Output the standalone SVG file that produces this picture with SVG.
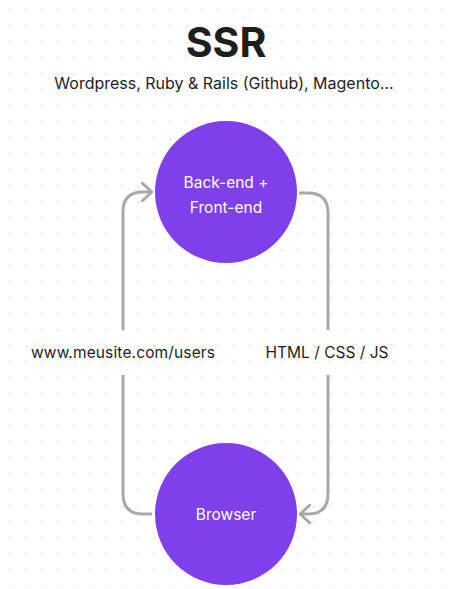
<svg xmlns="http://www.w3.org/2000/svg" width="453" height="589" viewBox="0 0 453 589">
<defs>
<pattern id="dots" x="0" y="0" width="16" height="16" patternUnits="userSpaceOnUse">
<rect x="10" y="10" width="1.4" height="1.4" fill="#d6d6d6"/>
</pattern>
<marker id="arr" viewBox="0 0 12 20" refX="11" refY="10" markerWidth="12" markerHeight="20" markerUnits="userSpaceOnUse" orient="auto">
<path d="M1,1 L11,10 L1,19" fill="none" stroke="#a9a9a9" stroke-width="3" stroke-linecap="round" stroke-linejoin="round"/>
</marker>
<style>
.node{fill:#7f3fea}
.ntxt{font-family:Inter,"Noto Sans",sans-serif;font-size:15.5px;fill:#ffffff;text-anchor:middle}
.conn{fill:none;stroke:#a9a9a9;stroke-width:3}
.lbl{font-family:Inter,"Noto Sans",sans-serif;font-size:15.5px;fill:#1e1e1e;text-anchor:middle}
</style>
</defs>
<rect width="453" height="589" fill="#ffffff"/>
<rect width="453" height="589" fill="url(#dots)"/>
<g id="title">
<text x="226" y="57" text-anchor="middle" font-family="Inter,'Noto Sans',sans-serif" font-size="41" font-weight="700" fill="#1e1e1e">SSR</text>
<text x="224" y="89" text-anchor="middle" font-family="Inter,'Noto Sans',sans-serif" font-size="16" fill="#1e1e1e">Wordpress, Ruby &amp; Rails (Github), Magento...</text>
</g>
<g id="connectors">
<path class="conn" d="M152,514 H143 Q123,514 123,494 V375"/>
<path class="conn" d="M123,330 V212 Q123,192 143,192 H152" marker-end="url(#arr)"/>
<path class="conn" d="M299,193 H308 Q328,193 328,213 V330"/>
<path class="conn" d="M328,375 V494 Q328,514 308,514 H300" marker-end="url(#arr)"/>
<text class="lbl" x="123" y="358" textLength="184">www.meusite.com/users</text>
<text class="lbl" x="327" y="358">HTML / CSS / JS</text>
</g>
<g id="node-backend">
<circle class="node" cx="226" cy="192" r="71"/>
<text class="ntxt" x="226" y="188">Back-end +</text>
<text class="ntxt" x="226" y="213">Front-end</text>
</g>
<g id="node-browser">
<circle class="node" cx="226" cy="514" r="71"/>
<text class="ntxt" x="226" y="520">Browser</text>
</g>
</svg>
